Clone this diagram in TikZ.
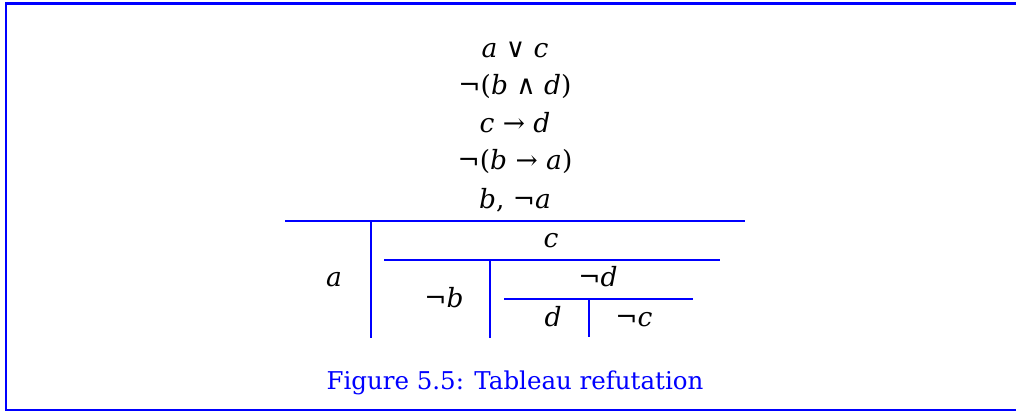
\documentclass[tikz,border=0pt]{standalone}
\usepackage{fontspec}
\setmainfont{DejaVu Serif}
\definecolor{frameblue}{RGB}{0,0,255}
\newcommand{\vi}[1]{\textit{#1}}
\begin{document}
\begin{tikzpicture}[x=1pt,y=-1pt,
  fml/.style={inner sep=0pt, anchor=base, font=\fontsize{26.5}{30}\selectfont},
  rulestyle/.style={draw=frameblue, line width=2pt},
  captionstyle/.style={inner sep=0pt, anchor=base, text=frameblue, font=\fontsize{24.5}{28}\selectfont}]
\useasboundingbox (0,0) rectangle (1016,411);
\draw[frameblue, line width=2.5pt] (6.2,3.4) rectangle (1040,409.8);
% formulas
\node[fml] (f1) at (515,57.5) {\vi{a} ∨ \vi{c}};
\node[fml] (f2) at (515,95) {¬(\vi{b} ∧ \vi{d})};
\node[fml] (f3) at (515,132.5) {\vi{c} → \vi{d}};
\node[fml] (f4) at (515,170) {¬(\vi{b} → \vi{a})};
\node[fml] (f5) at (515,208.5) {\vi{b}, ¬\vi{a}};
% rules
\coordinate (r1l) at (285,221);
\coordinate (r1r) at (745,221);
\coordinate (v1t) at (371,221);
\coordinate (v1b) at (371,338);
\coordinate (r2l) at (384,260);
\coordinate (r2r) at (720,260);
\coordinate (v2t) at (490,260);
\coordinate (v2b) at (490,338);
\coordinate (r3l) at (504,299);
\coordinate (r3r) at (693,299);
\coordinate (v3t) at (589,299);
\coordinate (v3b) at (589,337);
\draw[rulestyle] (r1l) -- (r1r);
\draw[rulestyle] (v1t) -- (v1b);
\draw[rulestyle] (r2l) -- (r2r);
\draw[rulestyle] (v2t) -- (v2b);
\draw[rulestyle] (r3l) -- (r3r);
\draw[rulestyle] (v3t) -- (v3b);
% branches
\node[fml] (ba) at (334,287) {\vi{a}};
\node[fml] (bc) at (551,248) {\vi{c}};
\node[fml] (bnb) at (444,307) {¬\vi{b}};
\node[fml] (bnd) at (598,287) {¬\vi{d}};
\node[fml] (bd) at (553,326) {\vi{d}};
\node[fml] (bnc) at (634,326) {¬\vi{c}};
% caption
\node[captionstyle] (cap) at (515,389.5) {Figure 5.5: Tableau refutation};
\end{tikzpicture}
\end{document}
